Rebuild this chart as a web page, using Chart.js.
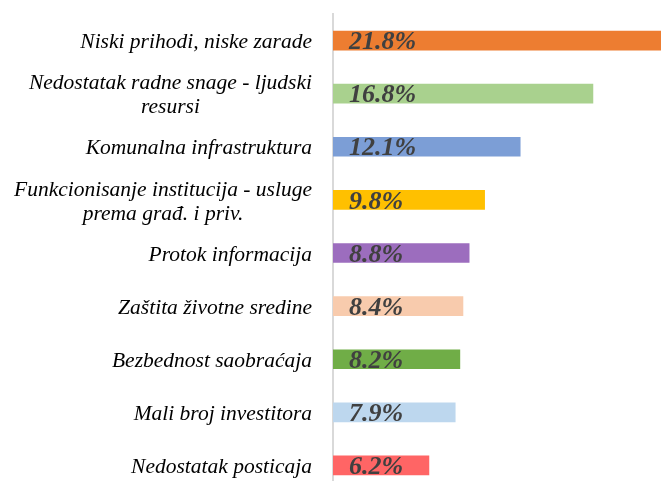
<!DOCTYPE html>
<html>
<head>
<meta charset="utf-8">
<script src="https://cdn.jsdelivr.net/npm/chart.js@4/dist/chart.umd.min.js"></script>
<style>
  html, body { margin: 0; padding: 0; background: #fff; overflow: hidden; }
  #wrap { position: relative; width: 661px; height: 492px; }
</style>
</head>
<body>
<div id="wrap"><canvas id="chart"></canvas></div>
<script>
// categories (multi-line ones as arrays)
var categories = [
  'Niski prihodi, niske zarade',
  ['Nedostatak radne snage - ljudski', 'resursi'],
  'Komunalna infrastruktura',
  ['Funkcionisanje institucija - usluge', 'prema građ. i priv.'],
  'Protok informacija',
  'Zaštita životne sredine',
  'Bezbednost saobraćaja',
  'Mali broj investitora',
  'Nedostatak posticaja'
]
var values = [21.8, 16.8, 12.1, 9.8, 8.8, 8.4, 8.2, 7.9, 6.2]
var barColors = [
  '#ED7D31', '#A9D18E', '#7C9ED6', '#FFC000', '#9C6DBE',
  '#F8CBAD', '#70AD47', '#BDD7EE', '#FF6565'
]

var labelFont = 'italic 21.5px "Liberation Serif", serif'
var valueFont = 'italic bold 26px "Liberation Serif", serif'

// category labels: right aligned block, lines centered within it
var catLabels = {
  id: 'catLabels',
  afterDraw: function(chart) {
    var ctx = chart.ctx
    var y = chart.scales.y
    var right = 312
    var lh = 24
    ctx.save()
    ctx.font = labelFont
    ctx.fillStyle = '#000'
    ctx.textBaseline = 'middle'
    ctx.textAlign = 'center'
    for (let i in categories) {
      var lines = [].concat(categories[i])
      var w = 0
      for (let l of lines) w = Math.max(w, ctx.measureText(l).width)
      var cy = y.getPixelForValue(parseInt(i)) - (lines.length - 1) * lh / 2 + 2
      for (let j in lines) {
        ctx.fillText(lines[j], right - w / 2, cy + j * lh)
      }
    }
    ctx.restore()
  }
}

// value labels inside the bars, near the base
var valueLabels = {
  id: 'valueLabels',
  afterDatasetsDraw: function(chart) {
    var ctx = chart.ctx
    var x0 = chart.scales.x.getPixelForValue(0)
    var meta = chart.getDatasetMeta(0)
    ctx.save()
    ctx.font = valueFont
    ctx.fillStyle = '#404040'
    ctx.textBaseline = 'middle'
    ctx.textAlign = 'left'
    meta.data.forEach(function(bar, i) {
      ctx.fillText(values[i].toFixed(1) + '%', x0 + 16, bar.y + 2)
    })
    ctx.restore()
  }
}

new Chart(document.getElementById('chart'), {
  type: 'bar',
  data: {
    labels: categories,
    datasets: [{
      data: values,
      backgroundColor: barColors,
      borderWidth: 0,
      barThickness: 19
    }]
  },
  options: {
    indexAxis: 'y',
    responsive: true,
    maintainAspectRatio: false,
    animation: false,
    layout: { padding: { top: 14, right: 0, bottom: 0, left: 0 } },
    plugins: {
      legend: { display: false },
      tooltip: { enabled: false }
    },
    scales: {
      x: {
        min: 0,
        max: 21.2,
        display: false
      },
      y: {
        ticks: { display: false },
        grid: { display: false, drawTicks: false },
        border: { display: true, color: '#d9d9d9', width: 2 },
        afterFit: function(scale) { scale.width = 333 }
      }
    }
  },
  plugins: [catLabels, valueLabels]
})
</script>
</body>
</html>
